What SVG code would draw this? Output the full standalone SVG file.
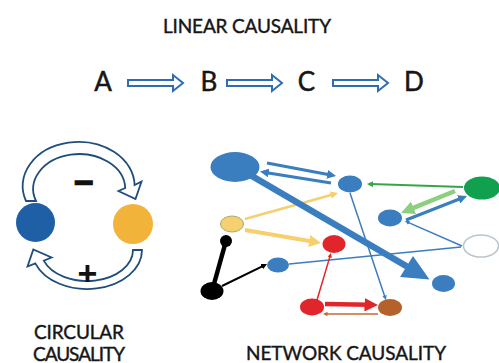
<svg xmlns="http://www.w3.org/2000/svg" xmlns:xlink="http://www.w3.org/1999/xlink" width="499" height="363" viewBox="0 0 499 363">
  <style>
    .lbl { font-family: Lato, "Liberation Sans", sans-serif; fill: #161616; stroke: #161616; stroke-width: 0.4; text-anchor: middle; }
    .big { font-size: 26px; stroke-width: 0.5; }
    .cap { font-size: 19px; }
    .sign { font-family: "Liberation Sans", Arial, sans-serif; font-weight: bold; fill: #111; text-anchor: middle; }
    .lin { fill: #fff; stroke: #2f6db2; stroke-width: 2; stroke-linejoin: miter; }
    .loop { fill: #fff; stroke: #1f4d7c; stroke-width: 1.8; stroke-linejoin: miter; }
    .edge { fill: none; stroke-linecap: butt; }
    .blue { stroke: #3b7ec0; }
    .green { stroke: #35a547; }
    .lgreen { stroke: #8ccf7e; }
    .yellow { stroke: #f6cf6e; }
    .black { stroke: #000; }
    .red { stroke: #e0262a; }
    .brown { stroke: #c06a30; }
    .nb { fill: #3b7ec0; }
  </style>
  <defs>
    <!-- hollow block arrow for the linear chain -->
    <path id="linArrow" d="M0,-3 H45 V-8 L55,0 L45,8 V3 H0 Z"/>
    <!-- triangular heads, one per connector colour; tip sits past the line end -->
    <marker id="hBlue" viewBox="0 0 10 10" refX="4" refY="5" markerWidth="3" markerHeight="3" orient="auto"><path d="M0,0 L10,5 L0,10 Z" fill="#3b7ec0"/></marker>
    <marker id="hGreen" viewBox="0 0 10 10" refX="4" refY="5" markerWidth="3" markerHeight="3" orient="auto"><path d="M0,0 L10,5 L0,10 Z" fill="#35a547"/></marker>
    <marker id="hLGreen" viewBox="0 0 10 10" refX="4" refY="5" markerWidth="3" markerHeight="3" orient="auto"><path d="M0,0 L10,5 L0,10 Z" fill="#8ccf7e"/></marker>
    <marker id="hYellow" viewBox="0 0 10 10" refX="4" refY="5" markerWidth="3" markerHeight="3" orient="auto"><path d="M0,0 L10,5 L0,10 Z" fill="#f6cf6e"/></marker>
    <marker id="hBlack" viewBox="0 0 10 10" refX="4" refY="5" markerWidth="3" markerHeight="3" orient="auto"><path d="M0,0 L10,5 L0,10 Z" fill="#000"/></marker>
    <marker id="hRed" viewBox="0 0 10 10" refX="4" refY="5" markerWidth="3" markerHeight="3" orient="auto"><path d="M0,0 L10,5 L0,10 Z" fill="#e0262a"/></marker>
    <marker id="hBrown" viewBox="0 0 10 10" refX="4" refY="5" markerWidth="3" markerHeight="3" orient="auto"><path d="M0,0 L10,5 L0,10 Z" fill="#c06a30"/></marker>
  </defs>

  <rect width="499" height="363" fill="#fff"/>

  <!-- Linear causality -->
  <g id="linear">
    <text class="lbl cap" x="247" y="32.5" textLength="168">LINEAR CAUSALITY</text>
    <g id="lin-A"><text class="lbl big" x="103" y="91">A</text></g>
    <g id="lin-B"><text class="lbl big" x="209" y="91">B</text></g>
    <g id="lin-C"><text class="lbl big" x="306.5" y="91">C</text></g>
    <g id="lin-D"><text class="lbl big" x="414" y="91">D</text></g>
    <g id="lin-arrows">
      <use xlink:href="#linArrow" class="lin" x="128" y="83"/>
      <use xlink:href="#linArrow" class="lin" x="227" y="83"/>
      <use xlink:href="#linArrow" class="lin" x="333" y="83"/>
    </g>
  </g>

  <!-- Circular causality -->
  <g id="circular">
    <g id="loop-arrows">
      <path class="loop" d="M26,201 A56,44 0 1,1 134.62,185.05 L141.5,181.5 L135.5,199 L118.5,191 L125.23,188.03 A46,35 0 1,0 36,201 Z"/>
      <path class="loop" d="M142,250 A55,39 0 0,1 35.32,263.34 L27.5,266.5 L33.3,249.5 L51.5,257.5 L43.77,260.6 A46,31 0 0,0 133,250 Z"/>
    </g>
    <g id="circ-blue"><circle cx="35.5" cy="222.5" r="19.5" fill="#1f5fa6"/></g>
    <g id="circ-yellow"><circle cx="133" cy="224" r="20" fill="#f2b33b"/></g>
    <text class="sign" x="84" y="194" font-size="34" stroke="#111" stroke-width="1.2">−</text>
    <text class="sign" x="87.5" y="285" font-size="34">+</text>
    <text class="lbl cap" x="79" y="338.5" textLength="90">CIRCULAR</text>
    <text class="lbl cap" x="79" y="361" textLength="92">CAUSALITY</text>
  </g>

  <!-- Network causality: connectors -->
  <g id="connectors">
    <line class="edge blue" x1="267" y1="163" x2="330.7" y2="175" stroke-width="3" marker-end="url(#hBlue)"/>
    <line class="edge blue" x1="331" y1="183" x2="265.3" y2="172.4" stroke-width="3" marker-end="url(#hBlue)"/>
    <line class="edge blue" x1="461" y1="247" x2="289" y2="264" stroke-width="1.5"/>
    <line class="edge blue" x1="462" y1="246" x2="407.5" y2="222.1" stroke-width="1.5" marker-end="url(#hBlue)"/>
    <line class="edge blue" x1="350" y1="193" x2="385.1" y2="297.4" stroke-width="1.5" marker-end="url(#hBlue)"/>
    <line class="edge blue" x1="406" y1="220" x2="462" y2="198" stroke-width="3" marker-end="url(#hBlue)"/>
    <line class="edge green" x1="463" y1="187" x2="370.6" y2="184.1" stroke-width="2" marker-end="url(#hGreen)"/>
    <line class="edge lgreen" x1="455" y1="191" x2="408.5" y2="209.9" stroke-width="4.5" marker-end="url(#hLGreen)"/>
    <line class="edge yellow" x1="245" y1="219" x2="333.7" y2="194.2" stroke-width="2.5" marker-end="url(#hYellow)"/>
    <line class="edge yellow" x1="245" y1="230" x2="313.9" y2="241.8" stroke-width="4" marker-end="url(#hYellow)"/>
    <line class="edge black" x1="226" y1="241" x2="212" y2="291" stroke-width="4.5"/>
    <line class="edge black" x1="222" y1="286" x2="263.8" y2="265.6" stroke-width="2" marker-end="url(#hBlack)"/>
    <line class="edge red" x1="317" y1="300" x2="330.2" y2="255.6" stroke-width="1.5" marker-end="url(#hRed)"/>
    <line class="edge red" x1="325" y1="304" x2="369.9" y2="304.8" stroke-width="4.5" marker-end="url(#hRed)"/>
    <line class="edge brown" x1="378" y1="314" x2="325.7" y2="314" stroke-width="1.5" marker-end="url(#hBrown)"/>
    <!-- heavy diagonal with its wide head -->
    <line class="edge blue" x1="245" y1="172" x2="407" y2="266.5" stroke-width="6.5"/>
    <polygon points="413,256 400,277 429.5,279.5" fill="#3b7ec0"/>
  </g>

  <!-- Network causality: nodes -->
  <g id="n-hub"><ellipse class="nb" cx="235" cy="167" rx="24.5" ry="15"/></g>
  <g id="n-top"><ellipse class="nb" cx="350" cy="184" rx="12" ry="8.5"/></g>
  <g id="n-green"><ellipse cx="482" cy="188" rx="18" ry="11.5" fill="#11a04e"/></g>
  <g id="n-mid"><ellipse class="nb" cx="390" cy="218" rx="12" ry="8.5"/></g>
  <g id="n-empty"><ellipse cx="481" cy="246" rx="17.5" ry="11" fill="#fff" stroke="#b9c5cd" stroke-width="1.5"/></g>
  <g id="n-corner"><ellipse class="nb" cx="443.5" cy="283.5" rx="11.5" ry="8.5"/></g>
  <g id="n-yellow"><ellipse cx="232" cy="224" rx="11.5" ry="8" fill="#f7d06f" stroke="#a4a979" stroke-width="1"/></g>
  <g id="n-red-mid"><ellipse cx="334" cy="244" rx="11.5" ry="9" fill="#e0262a"/></g>
  <g id="n-black-small"><circle cx="226" cy="241" r="6" fill="#000"/></g>
  <g id="n-black"><ellipse cx="212" cy="291" rx="11.5" ry="9" fill="#000"/></g>
  <g id="n-left"><ellipse class="nb" cx="278" cy="265" rx="11" ry="7.5"/></g>
  <g id="n-red-low"><ellipse cx="312" cy="307" rx="12" ry="8.5" fill="#e0262a"/></g>
  <g id="n-brown"><ellipse cx="390" cy="307.5" rx="12" ry="8.5" fill="#b5612b"/></g>

  <text class="lbl cap" x="346" y="359.5" textLength="200">NETWORK CAUSALITY</text>
</svg>
